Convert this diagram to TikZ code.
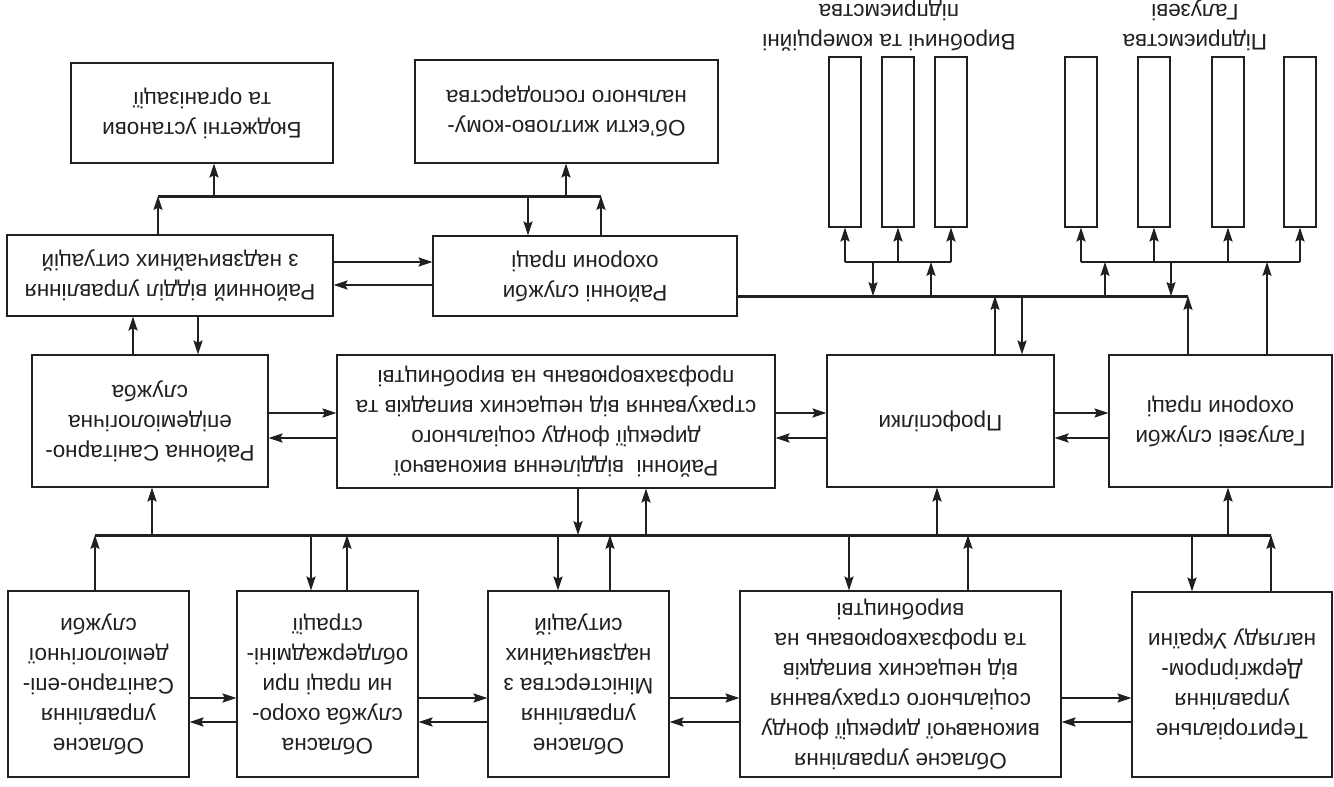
\documentclass[tikz,border=0pt]{standalone}
\usepackage{fontspec}
\setmainfont{Liberation Sans}
\usetikzlibrary{arrows.meta}
\definecolor{ink}{HTML}{231F20}
\newcommand\R[1]{\rotatebox[origin=c]{180}{\begin{tabular}{@{}c@{}}#1\end{tabular}}}
\begin{document}
\begin{tikzpicture}[x={(0.5pt,0)}, y={(0,-0.5pt)},
  box/.style={draw=ink, line width=0.65pt, rectangle, inner sep=0pt, text=ink,
    font=\fontsize{11.25}{15}\selectfont},
  lab/.style={inner sep=0pt, text=ink, font=\fontsize{11.25}{15}\selectfont},
  arr/.style={draw=ink, line width=0.55pt, -{Stealth[length=7pt,width=4.6pt,inset=1.2pt]}},
  thin/.style={draw=ink, line width=0.55pt},
  bus/.style={draw=ink, line width=1.5pt},
  narrow/.style={draw=ink, line width=0.65pt, rectangle, inner sep=0pt, minimum width=16pt, minimum height=85pt}]
\fill[white] (0,0) rectangle (1334,787);
\useasboundingbox (0,0) rectangle (1334,787);

% bottom row
\node[box, minimum width=90.5pt, minimum height=93pt] (oA) at (98.5,684) {\R{Обласне\\управління\\Санітарно-епі-\\деміологічної\\служби}};
\node[box, minimum width=90.5pt, minimum height=93pt] (oB) at (327.5,684) {\R{Обласна\\служба охоро-\\ни праці при\\облдержадміні-\\страції}};
\node[box, minimum width=90.5pt, minimum height=93pt] (oC) at (578.5,684) {\R{Обласне\\управління\\Міністерства з\\надзвичайних\\ситуацій}};
\node[box, minimum width=160.5pt, minimum height=93pt] (oD) at (900.5,684) {\R{Обласне управління\\виконавчої дирекції фонду\\соціального страхування\\від нещасних випадків\\та профзахворювань на\\виробництві}};
\node[box, minimum width=100pt, minimum height=92.5pt] (oE) at (1232,684.5) {\R{Територіальне\\управління\\Держгірпром-\\нагляду України}};

% middle row
\node[box, minimum width=118pt, minimum height=66pt] (rSan) at (150,421) {\R{Районна Санітарно-\\епідеміологічна\\служба}};
\node[box, minimum width=219pt, minimum height=66.5pt] (rFund) at (556,421.5) {\R{Районні\ \ відділення виконавчої\\дирекції фонду соціального\\страхування від нещасних випадків та\\профзахворювань на виробництві}};
\node[box, minimum width=113.5pt, minimum height=66pt] (prof) at (940.5,421) {\R{Профспілки}};
\node[box, minimum width=111.5pt, minimum height=66pt] (galS) at (1220.5,421) {\R{Галузеві служби\\охорони праці}};

% upper row
\node[box, minimum width=163pt, minimum height=40.5pt] (rMNS) at (170,275.5) {\R{Районний відділ управління\\з надзвичайних ситуацій}};
\node[box, minimum width=152pt, minimum height=40pt] (rSl) at (585,276) {\R{Районні служби\\охорони праці}};

% top row
\node[box, minimum width=131pt, minimum height=50pt] (bud) at (202,113) {\R{Бюджетні установи\\та організації}};
\node[box, minimum width=151.5pt, minimum height=51.5pt] (obj) at (566.5,111.5) {\R{Об’єкти житлово-кому-\\нального господарства}};

% narrow boxes
\node[narrow] (n1) at (845,142) {};
\node[narrow] (n2) at (898,142) {};
\node[narrow] (n3) at (951,142) {};
\node[narrow] (g1) at (1081,142) {};
\node[narrow] (g2) at (1154,142) {};
\node[narrow] (g3) at (1228,142) {};
\node[narrow] (g4) at (1300,142) {};
\node[lab] (lab1) at (889,25) {\R{Виробничі та комерційні\\підприємства}};
\node[lab] (lab2) at (1195,25) {\R{Підприємства\\Галузеві}};

% buses
\coordinate (b1L) at (95,535);  \coordinate (b1R) at (1271,535);
\coordinate (b2L) at (158,196); \coordinate (b2R) at (601,196);
\coordinate (b3L) at (737,296); \coordinate (b3R) at (1188,296);
\coordinate (s1L) at (845,262); \coordinate (s1R) at (951,262);
\coordinate (s2L) at (1081,262); \coordinate (s2R) at (1300,262);
\draw[bus] (b1L) -- (b1R);
\draw[bus] (b2L) -- (b2R);
\draw[bus] (rSl.east |- b3L) -- (b3R);
\draw[thin] (s1L) -- (s1R);
\draw[thin] (s2L) -- (s2R);

% bottom bus connectors
\draw[arr] (oA.north -| b1L) -- (b1L);
\draw[arr] (b1L -| 152,0) -- (rSan.south -| 152,0);
\draw[arr] (b1L -| 311,0) -- (oB.north -| 311,0);
\draw[arr] (oB.north -| 347,0) -- (b1L -| 347,0);
\draw[arr] (b1L -| 558,0) -- (oC.north -| 558,0);
\draw[arr] (rFund.south -| 578,0) -- (b1L -| 578,0);
\draw[arr] (oC.north -| 610,0) -- (b1L -| 610,0);
\draw[arr] (b1L -| 646,0) -- (rFund.south -| 646,0);
\draw[arr] (b1L -| 849,0) -- (oD.north -| 849,0);
\draw[arr] (b1L -| 937,0) -- (prof.south -| 937,0);
\draw[arr] (oD.north -| 968,0) -- (b1L -| 968,0);
\draw[arr] (b1L -| 1192,0) -- (oE.north -| 1192,0);
\draw[arr] (b1L -| 1228,0) -- (galS.south -| 1228,0);
\draw[arr] (oE.north -| b1R) -- (b1R);

% bottom row horizontals
\draw[arr] (oA.east |- 0,698) -- (oB.west |- 0,698);
\draw[arr] (oB.west |- 0,722) -- (oA.east |- 0,722);
\draw[arr] (oB.east |- 0,698) -- (oC.west |- 0,698);
\draw[arr] (oC.west |- 0,722) -- (oB.east |- 0,722);
\draw[arr] (oC.east |- 0,698) -- (oD.west |- 0,698);
\draw[arr] (oD.west |- 0,722) -- (oC.east |- 0,722);
\draw[arr] (oD.east |- 0,698) -- (oE.west |- 0,698);
\draw[arr] (oE.west |- 0,722) -- (oD.east |- 0,722);

% middle row horizontals
\draw[arr] (rSan.east |- 0,413) -- (rFund.west |- 0,413);
\draw[arr] (rFund.west |- 0,438) -- (rSan.east |- 0,438);
\draw[arr] (rFund.east |- 0,413) -- (prof.west |- 0,413);
\draw[arr] (prof.west |- 0,438) -- (rFund.east |- 0,438);
\draw[arr] (prof.east |- 0,413) -- (galS.west |- 0,413);
\draw[arr] (galS.west |- 0,438) -- (prof.east |- 0,438);

% rSan <-> rMNS
\draw[arr] (rSan.north -| 133,0) -- (rMNS.south -| 133,0);
\draw[arr] (rMNS.south -| 198,0) -- (rSan.north -| 198,0);

% rMNS <-> rSl
\draw[arr] (rMNS.east |- 0,262) -- (rSl.west |- 0,262);
\draw[arr] (rSl.west |- 0,285) -- (rMNS.east |- 0,285);

% top bus
\draw[arr] (rMNS.north -| b2L) -- (b2L);
\draw[arr] (b2L -| 214,0) -- (bud.south -| 214,0);
\draw[arr] (b2L -| 528,0) -- (rSl.north -| 528,0);
\draw[arr] (b2L -| 566,0) -- (obj.south -| 566,0);
\draw[arr] (rSl.north -| b2R) -- (b2R);

% right bus
\draw[arr] (s1L -| 873,0) -- (b3L -| 873,0);
\draw[arr] (b3L -| 931,0) -- (s1L -| 931,0);
\draw[arr] (prof.north -| 995,0) -- (b3L -| 995,0);
\draw[arr] (b3L -| 1022,0) -- (prof.north -| 1022,0);
\draw[arr] (b3L -| 1105,0) -- (s2L -| 1105,0);
\draw[arr] (s2L -| 1171,0) -- (b3L -| 1171,0);
\draw[arr] (galS.north -| b3R) -- (b3R);
\draw[arr] (galS.north -| 1267,0) -- (s2L -| 1267,0);

% sub-buses to narrow boxes
\draw[arr] (s1L) -- (n1.south -| s1L);
\draw[arr] (s1L -| n2.south) -- (n2.south);
\draw[arr] (s1R) -- (n3.south -| s1R);
\draw[arr] (s2L) -- (g1.south -| s2L);
\draw[arr] (s2L -| g2.south) -- (g2.south);
\draw[arr] (s2L -| g3.south) -- (g3.south);
\draw[arr] (s2R) -- (g4.south -| s2R);
\end{tikzpicture}
\end{document}
